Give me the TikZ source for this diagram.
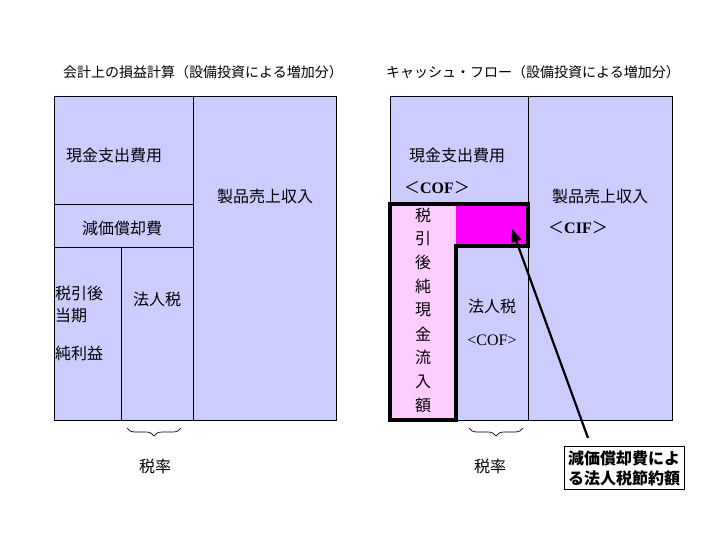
\documentclass[tikz,border=0pt]{standalone}
\usepackage{fontspec}
\setmainfont{Liberation Serif}
\newfontfamily\jp{Noto Sans CJK JP}
\usetikzlibrary{arrows.meta,decorations.pathreplacing,positioning}
\definecolor{areablue}{RGB}{204,204,255}
\definecolor{netpink}{RGB}{255,204,255}
\definecolor{savemag}{RGB}{255,0,255}
\begin{document}
\begin{tikzpicture}[x=1pt,y=-1pt,
    area/.style={draw=black, fill=areablue, line width=0.8pt},
    lbl/.style={font=\jp\fontsize{16}{18}\selectfont, inner sep=0pt},
    ttl/.style={font=\jp\fontsize{14}{16}\selectfont, inner sep=0pt},
    brc/.style={decorate, decoration={brace, mirror, amplitude=8pt}, line width=0.7pt},
    thickline/.style={line width=3.4pt}
]
    \useasboundingbox (0,0) rectangle (720,540);
    \fill[white] (0,0) rectangle (720,540);

    % Left panel (accounting)
    \node[ttl] (ltitle) at (203,72) {会計上の損益計算（設備投資による増加分）};
    \draw[area] (54,96) rectangle (336,420);
    \draw[line width=0.8pt] (193,96) -- (193,420);
    \draw[line width=0.8pt] (54,204) -- (193,204);
    \draw[line width=0.8pt] (54,247) -- (193,247);
    \draw[line width=0.8pt] (121,247) -- (121,420);
    \node[lbl] (lcash) at (114,155) {現金支出費用};
    \node[lbl] (lsales) at (265,196) {製品売上収入};
    \node[lbl] (ldep) at (122,228) {減価償却費};
    \node[lbl, anchor=west] (lnet1) at (55,293) {税引後};
    \node[lbl, anchor=west] (lnet2) at (55,315) {当期};
    \node[lbl, anchor=west] (lnet3) at (55,353) {純利益};
    \node[lbl] (ltax) at (157,299) {法人税};
    \draw[brc] (127,428) -- (181,428);
    \node[lbl] (lrate) at (155,466) {税率};

    % Right panel (cash flow)
    \node[ttl] (rtitle) at (533,72) {キャッシュ・フロー（設備投資による増加分）};
    \draw[area] (390,96) rectangle (672,420);
    \draw[line width=0.8pt] (528,96) -- (528,420);
    \fill[netpink] (390,204) rectangle (456,420);
    \fill[savemag] (456,204) rectangle (528,246);
    \draw[thickline] (390,204) -- (528,204) -- (528,246) -- (456,246) -- (456,420) -- (390,420) -- cycle;
    \node[lbl] (rcash) at (457,155) {現金支出費用};
    \node[lbl] (rcof) at (437,187) {＜{\rmfamily\bfseries COF}＞};
    \node[lbl] (rsales) at (600,196) {製品売上収入};
    \node[lbl] (rcif) at (578,227) {＜{\rmfamily\bfseries CIF}＞};
    \foreach \ch [count=\i from 0] in {税,引,後,純,現,金,流,入,額}
        \node[lbl] (rv\i) at (423,215+23.8*\i) {\ch};
    \node[lbl] (rtax) at (492,306) {法人税};
    \node[lbl] (rtcof) at (492,340) {\rmfamily\textless COF\textgreater};
    \draw[brc] (469,428) -- (523,428);
    \node[lbl] (rrate) at (490,466) {税率};

    % Callout
    \node[draw, fill=white, line width=0.8pt, align=left, inner sep=4pt,
          font=\jp\bfseries\fontsize{16}{20}\selectfont] (saving) at (624,468)
          {減価償却費によ\\る法人税節約額};
    \coordinate (tip) at (512,229);
    \coordinate (tail) at (588,438);
    \draw[line width=2.2pt, -{Triangle[length=13pt,width=10pt]}] (tail) -- (tip);
\end{tikzpicture}
\end{document}
